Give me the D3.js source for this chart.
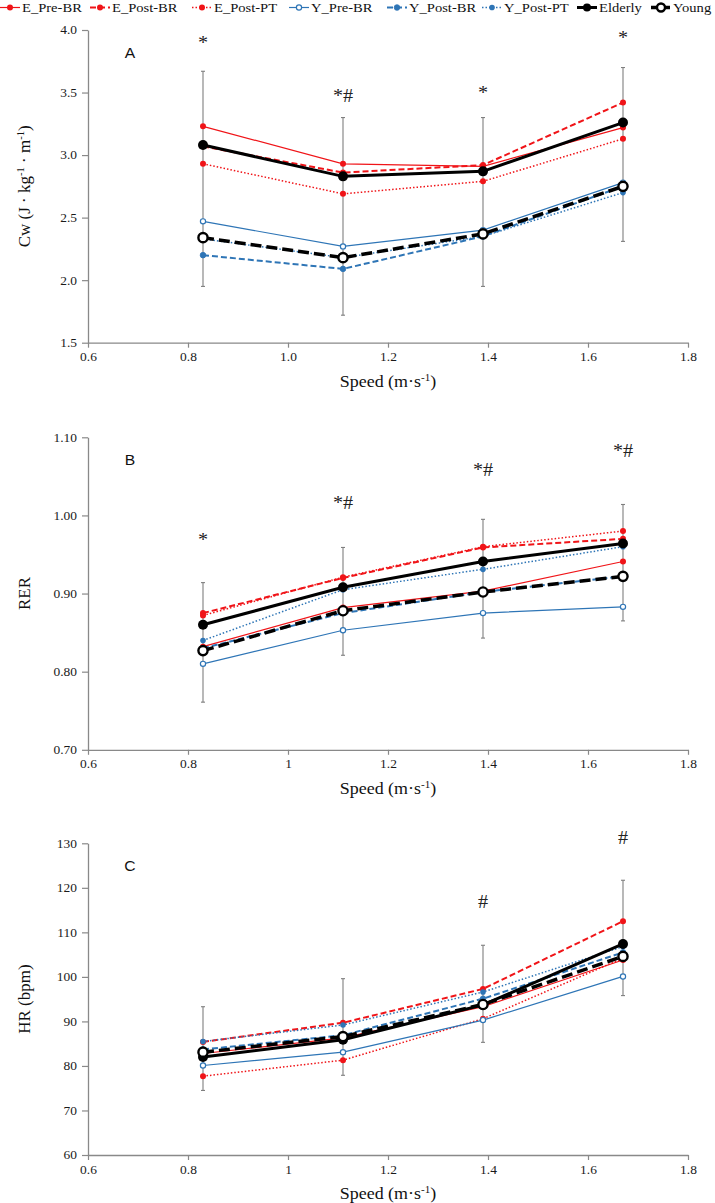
<!DOCTYPE html>
<html><head><meta charset="utf-8">
<script src="https://cdn.jsdelivr.net/npm/d3@7"></script>
<style>body{margin:0;background:#fff} svg{display:block}</style>
</head><body><svg id="c" width="715" height="1203"></svg>
<script>
// ---------------- DATA ----------------
const speeds = [0.83, 1.11, 1.39, 1.67];
const seriesNames = ["E_Pre-BR","E_Post-BR","E_Post-PT","Y_Pre-BR","Y_Post-BR","Y_Post-PT","Elderly","Young"];
const xTicks = [0.6, 0.8, 1.0, 1.2, 1.4, 1.6, 1.8];

// Panel A: Cw (J·kg-1·m-1)
const cwTicks = [1.5, 2.0, 2.5, 3.0, 3.5, 4.0];
const cwEPreBR  = [3.23, 2.93, 2.91, 3.22];
const cwEPostBR = [3.07, 2.86, 2.92, 3.42];
const cwEPostPT = [2.93, 2.69, 2.79, 3.13];
const cwYPreBR  = [2.47, 2.27, 2.40, 2.78];
const cwYPostBR = [2.20, 2.09, 2.35, 2.75];
const cwYPostPT = [2.33, 2.18, 2.35, 2.70];
const cwElderly = [3.08, 2.83, 2.87, 3.26];
const cwYoung   = [2.34, 2.18, 2.37, 2.75];
const cwErrHigh = [3.67, 3.30, 3.30, 3.70];
const cwErrLow  = [1.95, 1.72, 1.95, 2.31];
const cwMarks   = ["*", "*#", "*", "*"];
const cwMarkY   = [3.848, 3.424, 3.448, 3.888];

// Panel B: RER
const rerTicks = [0.70, 0.80, 0.90, 1.00, 1.10];
const rerEPreBR  = [0.832, 0.882, 0.903, 0.941];
const rerEPostBR = [0.875, 0.920, 0.959, 0.970];
const rerEPostPT = [0.872, 0.921, 0.960, 0.980];
const rerYPreBR  = [0.810, 0.853, 0.875, 0.883];
const rerYPostBR = [0.830, 0.875, 0.902, 0.922];
const rerYPostPT = [0.840, 0.905, 0.931, 0.960];
const rerElderly = [0.860, 0.908, 0.941, 0.964];
const rerYoung   = [0.827, 0.878, 0.902, 0.922];
const rerErrHigh = [0.914, 0.959, 0.995, 1.014];
const rerErrLow  = [0.761, 0.821, 0.843, 0.865];
const rerMarks   = ["*", "*#", "*#", "*#"];
const rerMarkY   = [0.9615, 1.008, 1.051, 1.075];

// Panel C: HR (bpm)
const hrTicks = [60, 70, 80, 90, 100, 110, 120, 130];
const hrEPreBR  = [82.8, 86.3, 93.3, 103.8];
const hrEPostBR = [85.4, 89.7, 97.3, 112.5];
const hrEPostPT = [77.7, 81.3, 90.6, 104.2];
const hrYPreBR  = [80.1, 83.1, 90.3, 100.1];
const hrYPostBR = [83.7, 86.9, 95.1, 105.5];
const hrYPostPT = [85.5, 89.2, 96.6, 106.8];
const hrElderly = [82.0, 85.9, 93.7, 107.4];
const hrYoung   = [83.1, 86.6, 93.8, 104.6];
const hrErrHigh = [93.3, 99.6, 107.1, 121.7];
const hrErrLow  = [74.5, 77.9, 85.3, 95.8];
const hrMarks   = ["", "", "#", "#"];
const hrMarkY   = [null, null, 115.45, 129.84];

// ---------------- STYLE ----------------
const RED = "#f01418", BLUE = "#2e75b6", BLACK = "#000";
const styles = {
  "E_Pre-BR":  {c:RED,  w:1.2, dash:null,  r:3,   fill:RED,  sw:0},
  "E_Post-BR": {c:RED,  w:2,   dash:"6,3", r:3,   fill:RED,  sw:0},
  "E_Post-PT": {c:RED,  w:1.5, dash:"1.5,2", r:3, fill:RED,  sw:0},
  "Y_Pre-BR":  {c:BLUE, w:1.2, dash:null,  r:2.6, fill:"#fff", sw:1.2},
  "Y_Post-BR": {c:BLUE, w:2,   dash:"6,3", r:2.8, fill:BLUE, sw:0.8},
  "Y_Post-PT": {c:BLUE, w:1.5, dash:"1.5,2", r:2.8, fill:BLUE, sw:0},
  "Elderly":   {c:BLACK,w:3,   dash:null,  r:5,   fill:BLACK, sw:0},
  "Young":     {c:BLACK,w:3.5, dash:"11,5", r:4.6, fill:"#fff", sw:2.4}
};
const SERIF = "'Liberation Serif','Times New Roman',serif";
const SANS = "'Liberation Sans',Arial,sans-serif";
const AXIS = "#898989";

const svg = d3.select("#c");
const x = d3.scaleLinear().domain([0.6, 1.8]).range([88, 688]);

const panels = [
  {label:"A", top:30, bottom:342.7, dom:[1.5,4.0], ticks:cwTicks, yfmt:d3.format(".1f"), xfmt:d3.format(".1f"),
   series:[cwEPreBR,cwEPostBR,cwEPostPT,cwYPreBR,cwYPostBR,cwYPostPT,cwElderly,cwYoung],
   hi:cwErrHigh, lo:cwErrLow, marks:cwMarks, markY:cwMarkY,
   ytitle:[["Cw (J · kg",0],["-1",1],[" · m",0],["-1",1],[")",0]]},
  {label:"B", top:437.3, bottom:749.8, dom:[0.70,1.10], ticks:rerTicks, yfmt:d3.format(".2f"), xfmt:d3.format("~g"),
   series:[rerEPreBR,rerEPostBR,rerEPostPT,rerYPreBR,rerYPostBR,rerYPostPT,rerElderly,rerYoung],
   hi:rerErrHigh, lo:rerErrLow, marks:rerMarks, markY:rerMarkY,
   ytitle:[["RER",0]]},
  {label:"C", top:843.3, bottom:1155, dom:[60,130], ticks:hrTicks, yfmt:d3.format("d"), xfmt:d3.format("~g"),
   series:[hrEPreBR,hrEPostBR,hrEPostPT,hrYPreBR,hrYPostBR,hrYPostPT,hrElderly,hrYoung],
   hi:hrErrHigh, lo:hrErrLow, marks:hrMarks, markY:hrMarkY,
   ytitle:[["HR (bpm)",0]]}
];

function richText(sel, parts, size) {
  parts.forEach(([t, sup], i) => {
    const prev = i > 0 ? parts[i-1][1] : 0;
    const ts = sel.append("tspan").text(t);
    if (sup) ts.attr("font-size", size*0.62).attr("dy", -size*0.38);
    else { ts.attr("font-size", size); if (prev) ts.attr("dy", size*0.38); }
  });
}

panels.forEach(p => {
  const y = d3.scaleLinear().domain(p.dom).range([p.bottom, p.top]);
  const g = svg.append("g");

  // axes
  const ya = g.append("g").attr("transform", `translate(${x.range()[0]},0)`)
    .call(d3.axisLeft(y).tickValues(p.ticks).tickFormat(p.yfmt).tickSize(6).tickSizeOuter(0).tickPadding(5));
  const xa = g.append("g").attr("transform", `translate(0,${p.bottom})`)
    .call(d3.axisBottom(x).tickValues(xTicks).tickFormat(p.xfmt).tickSize(5).tickSizeOuter(0).tickPadding(5));
  [ya, xa].forEach(a => {
    a.attr("font-family", SERIF);
    a.select(".domain").attr("stroke", AXIS).attr("stroke-width", 1.3);
    a.selectAll(".tick line").attr("stroke", AXIS).attr("stroke-width", 1.2);
    a.selectAll(".tick text").attr("fill", "#1a1a1a").attr("font-family", SERIF).attr("font-size", 12).classed("st", true);
  });

  // axis titles
  g.append("text").attr("class","st").attr("x", 388).attr("y", p.bottom + 44)
    .attr("text-anchor","middle").attr("font-family", SERIF).attr("fill","#111")
    .call(s => richText(s, [["Speed (m·s",0],["-1",1],[")",0]], 16));
  g.append("text").attr("transform", `translate(30,${(p.top+p.bottom)/2}) rotate(-90)`)
    .attr("text-anchor","middle").attr("font-family", SERIF).attr("fill","#111")
    .call(s => richText(s, p.ytitle, 17));

  // panel letter
  g.append("text").attr("class","st").attr("x", 130).attr("y", p.top + 28)
    .attr("text-anchor","middle").attr("font-family", SANS).attr("font-size", 14).attr("fill","#111").text(p.label);

  // error bars
  const eb = g.append("g").attr("stroke", "#7f7f7f").attr("stroke-width", 1.1);
  speeds.forEach((s, i) => {
    eb.append("line").attr("x1", x(s)).attr("x2", x(s)).attr("y1", y(p.hi[i])).attr("y2", y(p.lo[i]));
    [p.hi[i], p.lo[i]].forEach(v => eb.append("line").attr("x1", x(s)-2).attr("x2", x(s)+2).attr("y1", y(v)).attr("y2", y(v)));
  });

  // significance marks
  speeds.forEach((s, i) => {
    if (!p.marks[i]) return;
    g.append("text").attr("class","st").attr("x", x(s)).attr("y", y(p.markY[i]))
      .attr("text-anchor","middle").attr("font-family", SERIF).attr("font-size", 18).attr("fill","#222").text(p.marks[i]);
  });

  // series
  const line = d3.line().x((d,i) => x(speeds[i])).y(d => y(d));
  seriesNames.forEach((name, k) => {
    const st = styles[name], vals = p.series[k];
    g.append("path").datum(vals).attr("d", line).attr("fill","none")
      .attr("stroke", st.c).attr("stroke-width", st.w).attr("stroke-dasharray", st.dash);
    g.selectAll(null).data(vals).enter().append("circle")
      .attr("cx", (d,i) => x(speeds[i])).attr("cy", d => y(d)).attr("r", st.r)
      .attr("fill", st.fill).attr("stroke", st.c).attr("stroke-width", st.sw);
  });
});

// legend
const legendX = [0, 90, 192, 289, 387, 482, 577, 651];
const lg = svg.append("g");
seriesNames.forEach((name, k) => {
  const st = styles[name], lx = legendX[k];
  lg.append("line").attr("x1", lx).attr("x2", lx+20).attr("y1", 7.5).attr("y2", 7.5)
    .attr("stroke", st.c).attr("stroke-width", st.w).attr("stroke-dasharray", st.dash ? (st.dash === "11,5" ? "8,3" : st.dash) : null);
  lg.append("circle").attr("cx", lx+10).attr("cy", 7.5).attr("r", Math.min(st.r, 4))
    .attr("fill", st.fill).attr("stroke", st.c).attr("stroke-width", st.sw);
  lg.append("text").attr("class","st").attr("x", lx+22).attr("y", 12)
    .attr("font-family", SERIF).attr("font-size", 13).attr("fill","#111").text(name);
});

// slight horizontal stretch of text to match the reference's aspect
svg.selectAll("text.st").each(function() {
  const L = this.getComputedTextLength();
  this.setAttribute("textLength", (L * 1.12).toFixed(2));
  this.setAttribute("lengthAdjust", "spacingAndGlyphs");
});
</script></body></html>
